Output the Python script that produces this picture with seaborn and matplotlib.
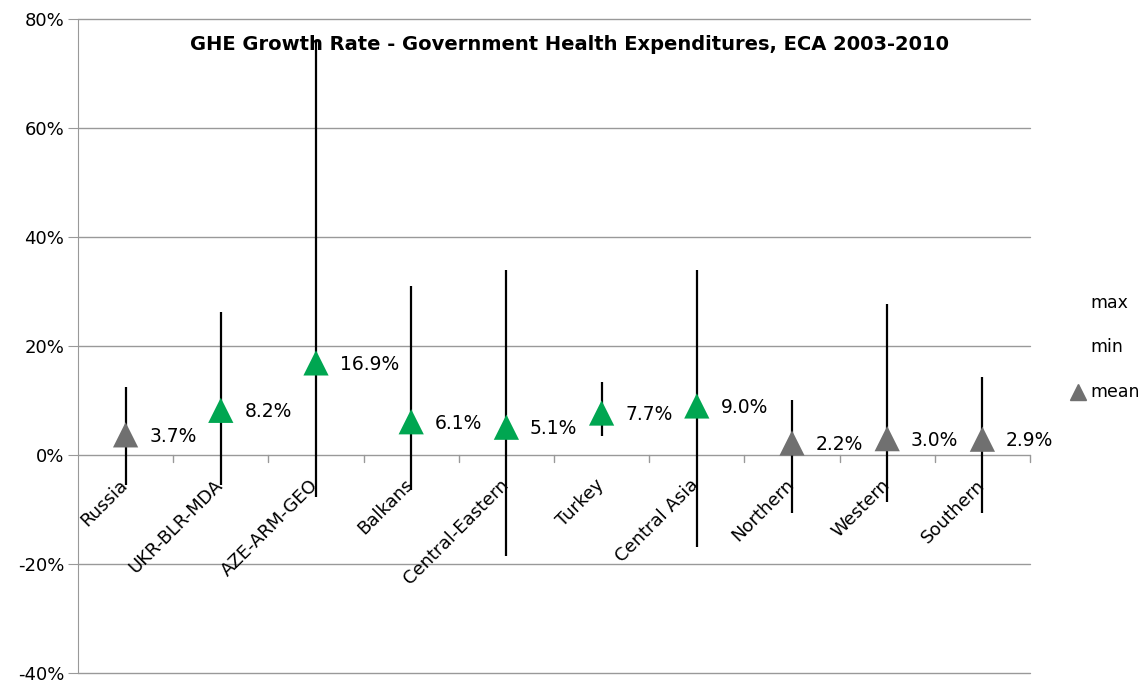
import numpy as np
import pandas as pd
import matplotlib.pyplot as plt
import seaborn as sns

regions = ['Russia', 'UKR-BLR-MDA', 'AZE-ARM-GEO', 'Balkans', 'Central-Eastern',
           'Turkey', 'Central Asia', 'Northern', 'Western', 'Southern']
max_vals = [12.5, 26.2, 76.0, 31.0, 34.0, 13.4, 34.0, 10.1, 27.7, 14.3]
min_vals = [-5.5, -5.5, -7.7, -6.4, -18.5, 3.5, -16.9, -10.7, -8.6, -10.7]
mean_vals = [3.7, 8.2, 16.9, 6.1, 5.1, 7.7, 9.0, 2.2, 3.0, 2.9]
group = ['gray', 'green', 'green', 'green', 'green',
         'green', 'green', 'gray', 'gray', 'gray']

df = pd.DataFrame({'region': regions, 'max': max_vals, 'min': min_vals,
                   'mean': mean_vals, 'group': group})
df['pos'] = np.arange(len(df))

sns.set_style('white')
plt.rcParams['font.family'] = ['DejaVu Sans']
plt.rcParams['text.color'] = 'black'
plt.rcParams['ytick.color'] = 'black'

fig = plt.figure(figsize=(11.48, 6.93), dpi=100)
ax = fig.add_axes([78 / 1148, 20 / 693, (1030 - 78) / 1148, (673 - 19) / 693])

# gridlines
for v in range(-40, 81, 20):
    ax.axhline(v, color='#999999', lw=1, zorder=0, clip_on=False)

# min-max lines
ax.vlines(df['pos'], df['min'], df['max'], color='black', lw=1.6, zorder=2)

# mean markers
sns.scatterplot(data=df, x='pos', y='mean', hue='group', marker='^', s=330,
                palette={'green': '#00a651', 'gray': '#707070'},
                edgecolor='none', legend=False, ax=ax, zorder=3)

for _, r in df.iterrows():
    ax.annotate(f"{r['mean']:.1f}%", (r['pos'], r['mean']), xytext=(17, -1),
                textcoords='offset points', va='center', ha='left', fontsize=13.5)
    ax.annotate(r['region'], (r['pos'], 0), xytext=(-5, -15),
                textcoords='offset points', rotation=45, rotation_mode='anchor',
                ha='right', va='top', fontsize=13)

ax.set_xlim(-0.5, len(df) - 0.5)
ax.set_ylim(-40, 80)
ax.set_yticks(range(-40, 81, 20))
ax.set_yticklabels([f'{v}%' for v in range(-40, 81, 20)], fontsize=13)
ax.set_xticks([])
ax.set_xlabel('')
ax.set_ylabel('')
ax.tick_params(axis='y', length=7, color='#999999', pad=3, left=True)
for s in ['top', 'right', 'bottom']:
    ax.spines[s].set_visible(False)
ax.spines['left'].set_color('#999999')

# category boundary ticks on the zero line
for b in np.arange(0.5, len(df), 1.0):
    ax.plot([b, b], [0, -1.3], color='#999999', lw=1, zorder=1, clip_on=False)

fig.text(569 / 1148, 1 - 45 / 693,
         'GHE Growth Rate - Government Health Expenditures, ECA 2003-2010',
         ha='center', va='center', fontsize=14, fontweight='bold')

# legend
fig.text(1090 / 1148, 1 - 303 / 693, 'max', fontsize=12.5, va='center')
fig.text(1090 / 1148, 1 - 347 / 693, 'min', fontsize=12.5, va='center')
fig.text(1090 / 1148, 1 - 392 / 693, 'mean', fontsize=12.5, va='center')
fig.lines.append(plt.Line2D([1078 / 1148], [1 - 392 / 693], marker='^', markersize=11,
                            color='#707070', transform=fig.transFigure))

fig.savefig('out.png', dpi=100)
